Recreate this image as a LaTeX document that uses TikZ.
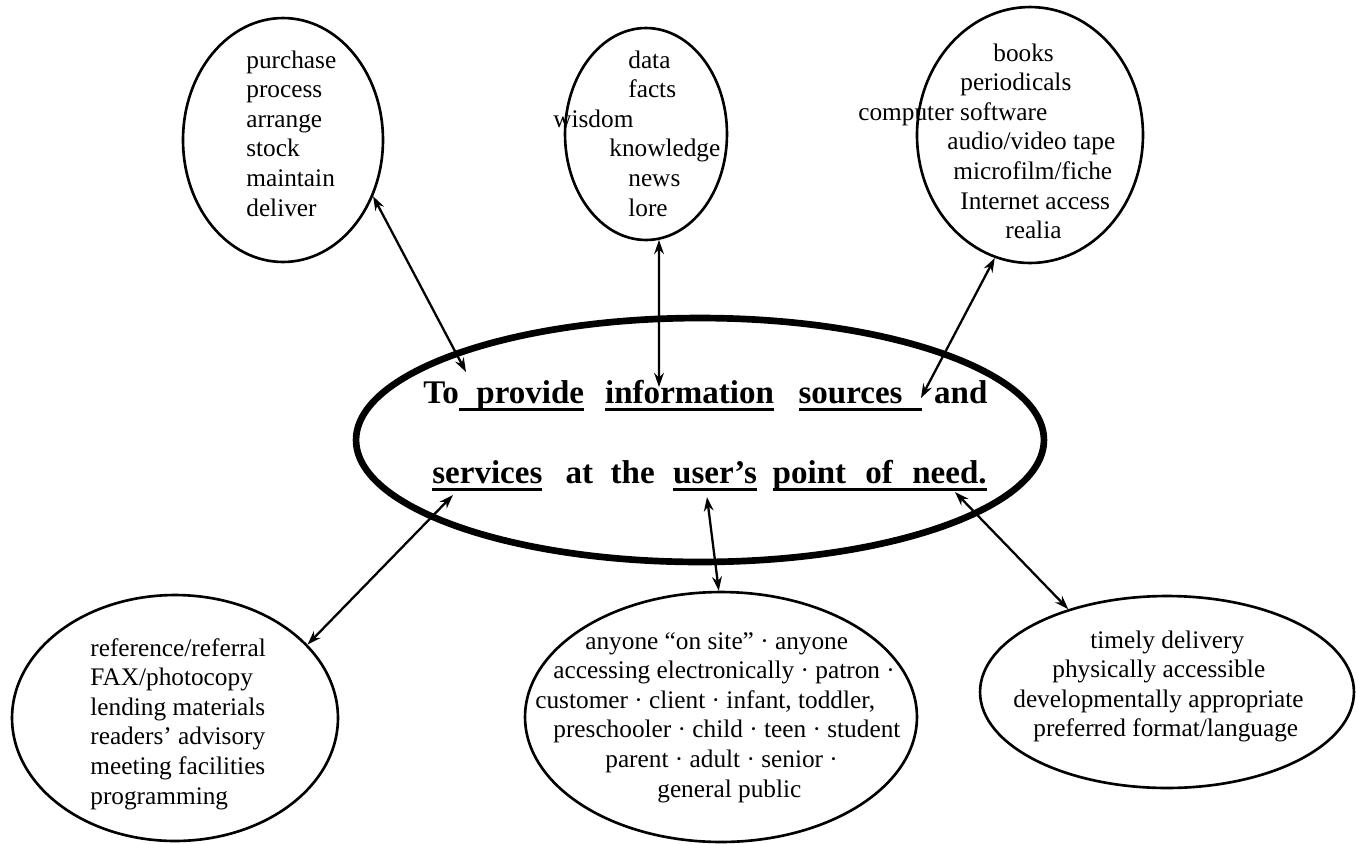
\documentclass[tikz,border=0pt]{standalone}
\usepackage{fontspec}
\setmainfont{Liberation Serif}
\usetikzlibrary{arrows.meta, shapes.geometric}

% thick underline, as in the scanned original
\newcommand\uword[1]{\setbox0\hbox{#1}\rlap{\rule[-4.3pt]{\wd0}{1.5pt}}\box0}

\begin{document}
\begin{tikzpicture}[
    x=0.02cm, y=-0.02cm,
    row/.style  = {font=\fontsize{14.4}{17}\selectfont, anchor=base west, inner sep=0pt},
    aim/.style  = {font=\fontsize{18.8}{22}\selectfont\bfseries, anchor=base west, inner sep=0pt},
    blob/.style = {ellipse, draw, line width=1.5pt, inner sep=0pt},
    arr/.style  = {<->, >={Stealth[length=8pt, width=5.5pt]}, line width=1.3pt},
  ]
    \useasboundingbox (0,0) rectangle (1357,843);
    \def\rs{29.6}  % row spacing

    % ── ellipses ──
    \node[blob, minimum width=4cm,    minimum height=4.88cm] (acts)     at (283,140)  {};
    \node[blob, minimum width=3.24cm, minimum height=4.24cm] (kinds)    at (646,134)  {};
    \node[blob, minimum width=4.52cm, minimum height=5.12cm] (media)    at (1030,135) {};
    \node[blob, minimum width=6.52cm, minimum height=4.92cm] (services) at (175,718)  {};
    \node[blob, minimum width=7.84cm, minimum height=5cm]    (users)    at (721,717)  {};
    \node[blob, minimum width=7.48cm, minimum height=3.84cm] (needs)    at (1167,692) {};
    \node[blob, line width=3.8pt, minimum width=13.76cm, minimum height=4.88cm] (mission) at (700,440) {};

    % ── mission statement ──
    \node[aim] (mla) at (423,403) {To\uword{\hspace{10pt}provide}\hspace{12pt}\uword{information}\hspace{14pt}\uword{sources\hspace{11pt}}\hspace{7pt}and};
    \node[aim] (mlb) at (432,483) {\uword{services}\hspace{13.2pt}at\hspace{10pt}the\hspace{10.5pt}\uword{user’s}\hspace{9pt}\uword{point\hspace{11pt}of\hspace{11pt}need.}};

    \coordinate (wpr) at (466,372);
    \coordinate (win) at (659,387);
    \coordinate (wso) at (921,398);
    \coordinate (wse) at (453,495);
    \coordinate (wus) at (707,497);
    \coordinate (wne) at (955,492);

    % ── activities ──
    \def\ax{246} \def\ay{68}
    \node[row] (apu) at (\ax, \ay)         {purchase};
    \node[row] (apr) at (\ax, \ay+1*\rs)   {process};
    \node[row] (aar) at (\ax, \ay+2*\rs)   {arrange};
    \node[row] (ast) at (\ax, \ay+3*\rs)   {stock};
    \node[row] (ama) at (\ax, \ay+4*\rs)   {maintain};
    \node[row] (ade) at (\ax, \ay+5*\rs)   {deliver};

    % ── kinds of information ──
    \def\by{68}
    \node[row] (bda) at (628, \by)         {data};
    \node[row] (bfa) at (628, \by+1*\rs)   {facts};
    \node[row] (bwi) at (553, \by+2*\rs)   {wisdom};
    \node[row] (bkn) at (609, \by+3*\rs)   {knowledge};
    \node[row] (bne) at (628, \by+4*\rs)   {news};
    \node[row] (blo) at (628, \by+5*\rs)   {lore};

    % ── sources ──
    \def\cy{61}
    \node[row] (cbo) at (993, \cy)         {books};
    \node[row] (cpe) at (960, \cy+1*\rs)   {periodicals};
    \node[row] (cco) at (858, \cy+2*\rs)   {computer software};
    \node[row] (cau) at (947, \cy+3*\rs)   {audio/video tape};
    \node[row] (cmi) at (953, \cy+4*\rs)   {microfilm/fiche};
    \node[row] (cin) at (960, \cy+5*\rs)   {Internet access};
    \node[row] (cre) at (1005, \cy+6*\rs)  {realia};

    % ── services ──
    \def\ex{90} \def\ey{656}
    \node[row] (ere) at (\ex, \ey)         {reference/referral};
    \node[row] (efa) at (\ex, \ey+1*\rs)   {FAX/photocopy};
    \node[row] (ele) at (\ex, \ey+2*\rs)   {lending materials};
    \node[row] (ead) at (\ex, \ey+3*\rs)   {readers’ advisory};
    \node[row] (eme) at (\ex, \ey+4*\rs)   {meeting facilities};
    \node[row] (epg) at (\ex, \ey+5*\rs)   {programming};

    % ── users ──
    \def\fy{649}
    \node[row] (fon) at (585, \fy)         {anyone “on site” · anyone};
    \node[row] (fel) at (553, \fy+1*\rs)   {accessing electronically · patron ·};
    \node[row] (fcu) at (535, \fy+2*\rs)   {customer · client · infant, toddler,};
    \node[row] (fpr) at (553, \fy+3*\rs)   {preschooler · child · teen · student};
    \node[row] (fpa) at (605, \fy+4*\rs)   {parent · adult · senior ·};
    \node[row] (fge) at (657, \fy+5*\rs)   {general public};

    % ── point of need ──
    \def\gy{648}
    \node[row] (gti) at (1090, \gy)        {timely delivery};
    \node[row] (gph) at (1052, \gy+1*\rs)  {physically accessible};
    \node[row] (gde) at (1013, \gy+2*\rs)  {developmentally appropriate};
    \node[row] (gpf) at (1033, \gy+3*\rs)  {preferred format/language};

    % ── arrows ──
    \draw[arr] (acts.-32)     -- (wpr);
    \draw[arr] (kinds.-83)    -- (win);
    \draw[arr] (media.-106.7) -- (wso);
    \draw[arr] (services.29)  -- (wse);
    \draw[arr] (users.91)     -- (wus);
    \draw[arr] (needs.140.4)  -- (wne);

  \end{tikzpicture}
\end{document}
